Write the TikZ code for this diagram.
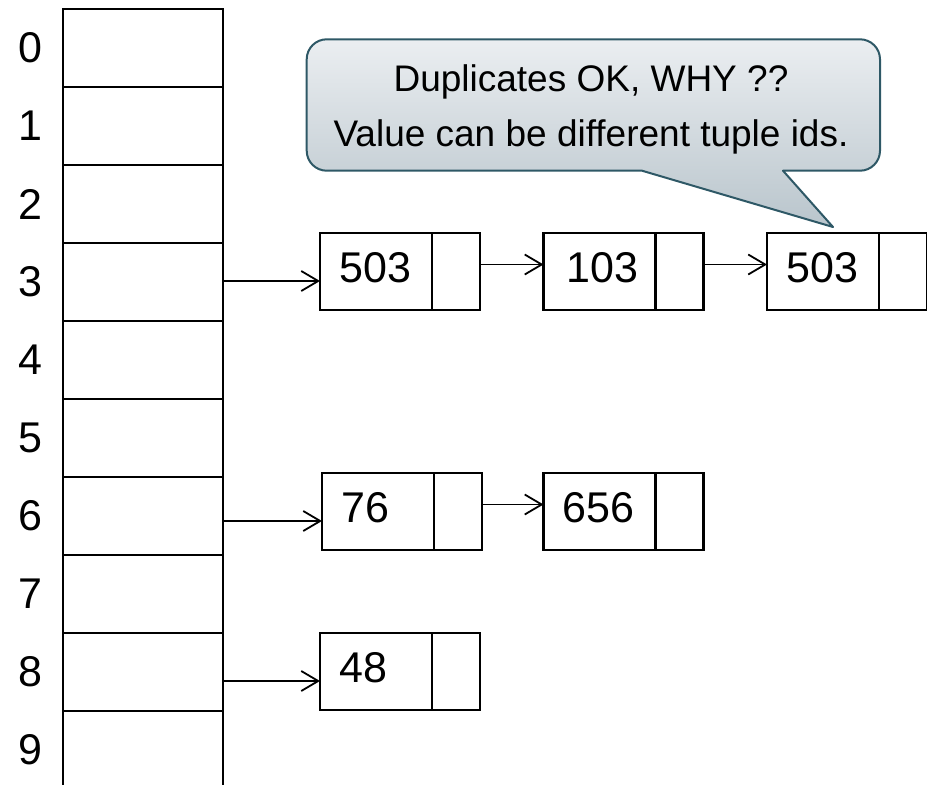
\documentclass[tikz,border=0pt]{standalone}
\usepackage{fontspec}
\setmainfont{Liberation Sans}
\usetikzlibrary{arrows.meta}

\definecolor{calloutedge}{HTML}{2E5866}
\definecolor{callouttop}{HTML}{EBEEF1}
\definecolor{calloutbottom}{HTML}{B9C5CC}

\tikzset{
  grid/.style={line width=2.5pt, line cap=rect},
  cell/.style={rectangle, draw, line width=2.5pt, minimum width=160pt, minimum height=78pt, inner sep=0pt, outer sep=0pt},
  opencell/.style={rectangle, minimum width=160pt, minimum height=74pt, inner sep=0pt, outer sep=0pt},
  lbl/.style={font=\fontsize{43}{50}\selectfont, inner sep=0pt},
  rec/.style={rectangle, draw, line width=2.5pt, minimum width=160pt, minimum height=77pt, inner sep=0pt, outer sep=0pt},
  val/.style={font=\fontsize{43}{50}\selectfont, inner sep=0pt, anchor=west},
  link/.style={line width=1.8pt, -{Straight Barb[length=17pt,width=20pt,line width=1.8pt]}},
  note/.style={font=\fontsize{37}{44}\selectfont, inner sep=0pt, anchor=base},
}

\newcommand{\divider}[1]{%
  \draw[line width=2.5pt] ([xshift=112pt]#1.north west) -- ([xshift=112pt]#1.south west);}

\begin{document}
\begin{tikzpicture}[x=1pt,y=-1pt]
\useasboundingbox (0,0) rectangle (927,785);

% hash table buckets 0..8, bucket 9 left open at the bottom
\foreach \i in {0,...,8} {
  \node[cell] (r\i) at (143, 48+78*\i) {};
}
\node[opencell] (r9) at (143, 748) {};
\draw[grid] (r9.north west) -- (63,785);
\draw[grid] (r9.north east) -- (223,785);

% bucket numbers
\foreach \i in {0,...,9} {
  \node[lbl] (l\i) at (30, 48+78*\i) {\i};
}

% overflow chain of bucket 3
\node[rec] (b3a) at (400, 271.5) {};
\node[rec] (b3b) at (623.5, 271.5) {};
\node[rec] (b3c) at (847, 271.5) {};
% chain of bucket 6
\node[rec] (b6a) at (402, 511.5) {};
\node[rec] (b6b) at (623.5, 511.5) {};
% chain of bucket 8
\node[rec] (b8a) at (400, 671.5) {};

\foreach \b in {b3a,b3b,b3c,b6a,b6b,b8a} { \divider{\b} }

\node[val] (v3a) at ([xshift=19pt,yshift=4pt]b3a.west) {503};
\node[val] (v3b) at ([xshift=23pt,yshift=4pt]b3b.west) {103};
\node[val] (v3c) at ([xshift=19pt,yshift=4pt]b3c.west) {503};
\node[val] (v6a) at ([xshift=19pt,yshift=4pt]b6a.west) {76};
\node[val] (v6b) at ([xshift=19pt,yshift=4pt]b6b.west) {656};
\node[val] (v8a) at ([xshift=19pt,yshift=4pt]b8a.west) {48};

% pointers from the buckets
\draw[link] ([yshift=1pt]r3.east) coordinate (s3) -- (s3 -| b3a.west);
\draw[link] ([yshift=-5pt]r6.east) coordinate (s6) -- (s6 -| b6a.west);
\draw[link] ([yshift=-9pt]r8.east) coordinate (s8) -- (s8 -| b8a.west);

% pointers along the chains
\draw[link] ([yshift=7pt]b3a.east) coordinate (p1) -- (p1 -| b3b.west);
\draw[link] ([yshift=7pt]b3b.east) coordinate (p2) -- (p2 -| b3c.west);
\draw[link] ([yshift=7pt]b6a.east) coordinate (p3) -- (p3 -| b6b.west);

% speech bubble
\coordinate (tip) at (833,227);
\draw[draw=calloutedge, line width=2pt, top color=callouttop, bottom color=calloutbottom, line join=round]
  (326.7,39.3) -- (860,39.3) arc[start angle=-90, end angle=0, radius=20]
  -- (880,150.7) arc[start angle=0, end angle=90, radius=20]
  -- (783,170.7) -- (tip) -- (642,170.7)
  -- (326.7,170.7) arc[start angle=90, end angle=180, radius=20]
  -- (306.7,59.3) arc[start angle=180, end angle=270, radius=20] -- cycle;
\node[note] (n1) at (591, 91.7) {Duplicates OK, WHY ??};
\node[note] (n2) at (591, 146) {Value can be different tuple ids.};
\end{tikzpicture}
\end{document}
